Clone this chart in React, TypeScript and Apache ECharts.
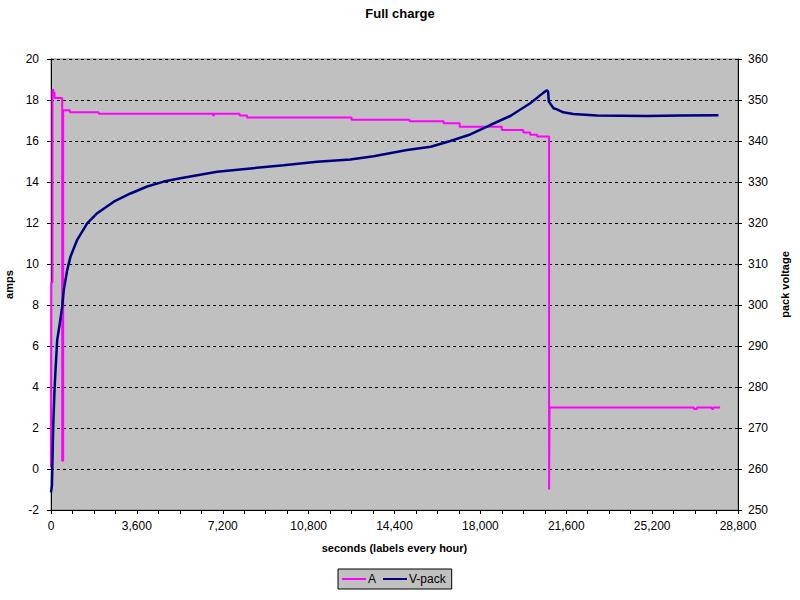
import { useEffect, useRef } from 'react'
import * as echarts from 'echarts'

// current (A): value holds from each start time until the next one
const currentTimes = [
  0, 15, 60, 100, 150, 470, 510, 790, 2000, 6790, 6830, 7910, 8220, 12600, 15030,
  16460, 17130, 18900, 19800, 20090, 20380, 20880, 20900, 26950, 27080, 27700, 27760, 28050
]
const currentAmps = [
  0.1, 9.1, 18.5, 18.35, 18.1, 0.4, 17.5, 17.4, 17.33, 17.25, 17.33, 17.25, 17.15, 17.04, 16.96,
  16.86, 16.7, 16.54, 16.41, 16.31, 16.22, -1.0, 3.0, 2.93, 3.0, 2.93, 3.0, 3.0
]

// pack voltage (V-pack)
const voltTimes = [
  0, 40, 92, 147, 189, 260, 369, 469, 536, 679, 817, 1098, 1517, 1936, 2631, 3331, 4031,
  4726, 5426, 6964, 8359, 9755, 11154, 12549, 13525, 14925, 15918, 16739, 17577, 18415,
  19253, 20091, 20649, 20790, 20840, 20870, 21067, 21210, 21474, 21893, 22886, 24981,
  26376, 27981
]
const voltValues = [
  254.3, 256, 270.3, 279.3, 284.1, 291.5, 295.5, 299.6, 303.7, 308.5, 311.8, 315.9, 319.9,
  322.4, 325.2, 327.2, 328.9, 330.1, 330.9, 332.5, 333.3, 334.1, 334.95, 335.5, 336.3,
  337.8, 338.6, 340.0, 341.6, 343.9, 346.1, 349.2, 351.8, 352.4, 352.0, 349.6, 348.0,
  347.7, 347.0, 346.6, 346.2, 346.1, 346.2, 346.3
]

const FONT = "'Liberation Sans', Arial, sans-serif"

export default function App() {
  const chartRef = useRef<HTMLDivElement>(null)

  useEffect(() => {
    document.body.style.margin = '0'
    const host = chartRef.current
    if (!host) return
    const chart = echarts.init(host, null, { renderer: 'svg' })

    const option: echarts.EChartsOption = {
      animation: false,
      backgroundColor: '#ffffff',
      textStyle: { fontFamily: FONT, color: '#000' },
      title: {
        text: 'Full charge',
        left: 'center',
        top: 2,
        textStyle: { fontFamily: FONT, fontSize: 13, fontWeight: 'bold', color: '#000' }
      },
      grid: {
        left: 51,
        right: 62,
        top: 59,
        bottom: 90,
        outerBoundsMode: 'none',
        show: true,
        backgroundColor: '#c0c0c0',
        borderColor: '#808080',
        borderWidth: 1
      },
      legend: {
        left: 338,
        top: 569,
        padding: [4, 6, 4, 4],
        itemWidth: 24,
        itemHeight: 2,
        itemGap: 7,
        backgroundColor: '#c0c0c0',
        borderColor: '#000',
        borderWidth: 1,
        borderRadius: 0,
        textStyle: { fontFamily: FONT, fontSize: 12, color: '#000', padding: [0, 0, 0, -3] },
        data: [
          { name: 'A', icon: 'rect' },
          { name: 'V-pack', icon: 'rect' }
        ]
      },
      xAxis: {
        type: 'value',
        min: 0,
        max: 28800,
        interval: 3600,
        name: 'seconds (labels every hour)',
        nameLocation: 'middle',
        nameGap: 32,
        nameTextStyle: { fontFamily: FONT, fontSize: 11, fontWeight: 'bold', color: '#000' },
        axisLine: { onZero: false, lineStyle: { color: '#000', width: 1 } },
        axisTick: { length: 4, lineStyle: { color: '#000' } },
        minorTick: { show: true, splitNumber: 4, length: 4, lineStyle: { color: '#000' } },
        axisLabel: {
          fontFamily: FONT,
          fontSize: 12,
          color: '#000',
          margin: 10,
          formatter: (v: number) => v.toLocaleString('en-US')
        },
        splitLine: { show: false }
      },
      yAxis: [
        {
          type: 'value',
          min: -2,
          max: 20,
          interval: 2,
          name: 'amps',
          nameLocation: 'middle',
          nameRotate: 90,
          nameGap: 29,
          nameTextStyle: { fontFamily: FONT, fontSize: 11, fontWeight: 'bold', color: '#000' },
          axisLine: { show: true, onZero: false, lineStyle: { color: '#000', width: 1 } },
          axisTick: { show: true, length: 4, lineStyle: { color: '#000' } },
          axisLabel: { fontFamily: FONT, fontSize: 12, color: '#000', margin: 12 },
          splitLine: { show: true, lineStyle: { color: '#000', width: 1, type: [3, 3] } }
        },
        {
          type: 'value',
          min: 250,
          max: 360,
          interval: 10,
          position: 'right',
          name: 'pack voltage',
          nameLocation: 'middle',
          nameRotate: 90,
          nameGap: 41,
          nameTextStyle: { fontFamily: FONT, fontSize: 11, fontWeight: 'bold', color: '#000' },
          axisLine: { show: true, onZero: false, lineStyle: { color: '#000', width: 1 } },
          axisTick: { show: true, length: 4, lineStyle: { color: '#000' } },
          axisLabel: { fontFamily: FONT, fontSize: 12, color: '#000', margin: 10 },
          splitLine: { show: false }
        }
      ],
      series: [
        {
          name: 'A',
          type: 'line',
          yAxisIndex: 0,
          step: 'end',
          symbol: 'none',
          color: '#ff00ff',
          lineStyle: { color: '#ff00ff', width: 2 },
          data: currentTimes.map((t, i) => [t, currentAmps[i]])
        },
        {
          name: 'V-pack',
          type: 'line',
          yAxisIndex: 1,
          symbol: 'none',
          color: '#000080',
          lineStyle: { color: '#000080', width: 2.5 },
          data: voltTimes.map((t, i) => [t, voltValues[i]])
        }
      ]
    }

    chart.setOption(option)

    return () => {
      chart.dispose()
    }
  }, [])

  return <div ref={chartRef} style={{ width: 800, height: 600 }} />
}
